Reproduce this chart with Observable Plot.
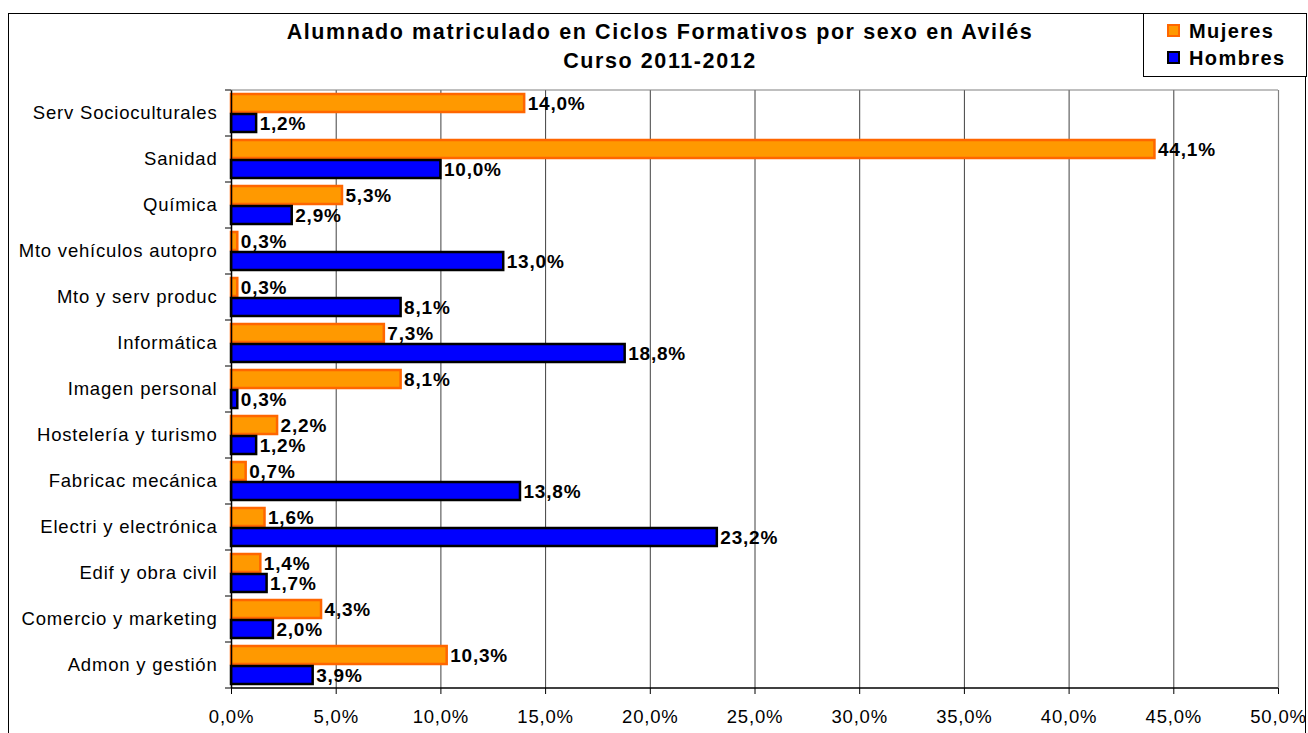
<!DOCTYPE html>
<html>
<head>
<meta charset="utf-8">
<script src="https://cdn.jsdelivr.net/npm/d3@7"></script>
<script src="https://cdn.jsdelivr.net/npm/@observablehq/plot@0.6"></script>
<style>
  html, body { margin: 0; padding: 0; background: #fff; }
  #wrap { position: relative; width: 1308px; height: 733px; overflow: hidden; font-family: "Liberation Sans", Arial, sans-serif; }
  #border { position: absolute; left: 8px; top: 13px; width: 1298px; height: 740px; border: 1.5px solid #000; box-sizing: border-box; }
  #title { position: absolute; left: 160px; width: 1000px; top: 18px; text-align: center; font-weight: bold; font-size: 21.5px; letter-spacing: 1.6px; line-height: 29px; color: #000; }
  #legend { position: absolute; left: 1143px; top: 13px; width: 164px; height: 64px; border: 1.5px solid #000; box-sizing: border-box; background: #fff; }
  .li { position: absolute; left: 23px; font-weight: bold; font-size: 20px; letter-spacing: 1.4px; line-height: 22px; white-space: nowrap; }
  .sw { display: inline-block; width: 9px; height: 9px; margin-right: 9px; vertical-align: 1px; }
  #chart { position: absolute; left: 0; top: 0; }
</style>
</head>
<body>
<div id="wrap">
  <div id="border"></div>
  <div id="chart"></div>
  <div id="title">Alumnado matriculado en Ciclos Formativos por sexo en Avilés<br>Curso 2011-2012</div>
  <div id="legend">
    <div class="li" style="top:6px"><span class="sw" style="background:#FF9900;border:2px solid #FF6600"></span>Mujeres</div>
    <div class="li" style="top:33px"><span class="sw" style="background:#0000FF;border:2px solid #000"></span>Hombres</div>
  </div>
</div>
<script>
const categories = ["Serv Socioculturales", "Sanidad", "Química", "Mto vehículos autopro", "Mto y serv produc", "Informática", "Imagen personal", "Hostelería y turismo", "Fabricac mecánica", "Electri y electrónica", "Edif y obra civil", "Comercio y marketing", "Admon y gestión"];
const mujeres = [14.0, 44.1, 5.3, 0.3, 0.3, 7.3, 8.1, 2.2, 0.7, 1.6, 1.4, 4.3, 10.3];
const hombres = [1.2, 10.0, 2.9, 13.0, 8.1, 18.8, 0.3, 1.2, 13.8, 23.2, 1.7, 2.0, 3.9];
const series = ["Mujeres", "Hombres"];
const xTicks = [0, 5, 10, 15, 20, 25, 30, 35, 40, 45, 50];

const data = [];
categories.forEach((c, i) => {
  data.push({cat: c, sexo: "Mujeres", v: mujeres[i]});
  data.push({cat: c, sexo: "Hombres", v: hombres[i]});
});

const fmt = d => d.toFixed(1).replace(".", ",") + "%";

const plot = Plot.plot({
  width: 1308,
  height: 733,
  marginLeft: 231,
  marginRight: 30,
  marginTop: 87,
  marginBottom: 43,
  style: {fontFamily: "'Liberation Sans', Arial, sans-serif", fontSize: "18.5px", letterSpacing: "0.8px", color: "#000", background: "transparent"},
  x: {domain: [0, 50], ticks: xTicks, tickFormat: fmt, tickSize: 6, tickPadding: 15, label: null, grid: false},
  y: {domain: series, axis: null, paddingInner: 0, paddingOuter: 0.12},
  fy: {domain: categories, padding: 0, label: null, tickSize: 0, tickPadding: 14},
  facet: {data, y: "cat"},
  marks: [
    Plot.ruleX(xTicks.slice(1, -1), {stroke: "#000", strokeWidth: 1, strokeOpacity: 0.75}),
    Plot.ruleX([50], {stroke: "#808080", strokeWidth: 1.2}),
    Plot.barX(data, {
      x: "v", y: "sexo",
      fill: d => d.sexo === "Mujeres" ? "#FF9900" : "#0000FF",
      stroke: d => d.sexo === "Mujeres" ? "#FF6600" : "#000000",
      strokeWidth: 2.5,
      insetTop: 1, insetBottom: 1
    }),
    Plot.ruleX([0], {stroke: "#000", strokeWidth: 1.5}),
    Plot.text(data, {
      x: "v", y: "sexo", text: d => fmt(d.v),
      textAnchor: "start", dx: 3, fontWeight: "bold", fontSize: 19, fill: "#000"
    })
  ]
});

document.getElementById("chart").appendChild(plot);

// category boundary ticks, top frame and bottom axis line from the fy / x scales
const fy = plot.scale("fy");
const xs = plot.scale("x");
const svg = d3.select(plot);
const g = svg.append("g");
const x0 = xs.apply(0), x50 = xs.apply(50);
const bounds = categories.map(c => fy.apply(c));
bounds.push(fy.apply(categories[categories.length - 1]) + fy.bandwidth);
bounds.forEach(y => {
  g.append("line").attr("x1", x0 - 6).attr("x2", x0).attr("y1", y).attr("y2", y).attr("stroke", "#000").attr("stroke-width", 1);
});
g.append("line").attr("x1", x0).attr("x2", x50).attr("y1", bounds[0]).attr("y2", bounds[0]).attr("stroke", "#808080").attr("stroke-width", 1.2);
g.append("line").attr("x1", x0).attr("x2", x50).attr("y1", bounds[bounds.length - 1]).attr("y2", bounds[bounds.length - 1]).attr("stroke", "#000").attr("stroke-width", 1.5);
</script>
</body>
</html>
